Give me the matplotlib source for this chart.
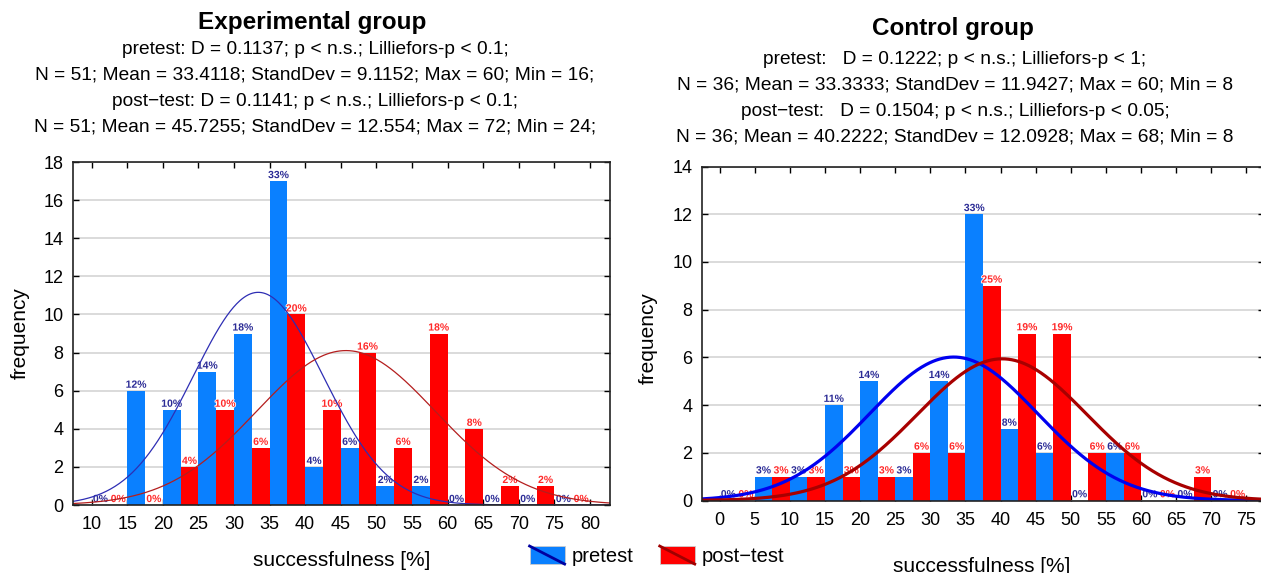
import numpy as np
import matplotlib
matplotlib.use("Agg")
import matplotlib.pyplot as plt
from matplotlib.patches import Rectangle
from matplotlib.lines import Line2D
from matplotlib.legend_handler import HandlerBase
import matplotlib.patheffects as pe

plt.rcParams['font.family'] = ['Liberation Sans', 'DejaVu Sans']

# ---------------- data ----------------
exp_bins = [10, 15, 20, 25, 30, 35, 40, 45, 50, 55, 60, 65, 70, 75]
exp_pre = [0, 6, 5, 7, 9, 17, 2, 3, 1, 1, 0, 0, 0, 0]
exp_post = [0, 0, 2, 5, 3, 10, 5, 8, 3, 9, 4, 1, 1, 0]
exp_xticks = [10, 15, 20, 25, 30, 35, 40, 45, 50, 55, 60, 65, 70, 75, 80]
exp_yticks = [0, 2, 4, 6, 8, 10, 12, 14, 16, 18]
exp_stats = {"pre": (51, 33.4118, 9.1152), "post": (51, 45.7255, 12.554)}

ctrl_bins = [0, 5, 10, 15, 20, 25, 30, 35, 40, 45, 50, 55, 60, 65, 70]
ctrl_pre = [0, 1, 1, 4, 5, 1, 5, 12, 3, 2, 0, 2, 0, 0, 0]
ctrl_post = [0, 1, 1, 1, 1, 2, 2, 9, 7, 7, 2, 2, 0, 1, 0]
ctrl_xticks = [0, 5, 10, 15, 20, 25, 30, 35, 40, 45, 50, 55, 60, 65, 70, 75]
ctrl_yticks = [0, 2, 4, 6, 8, 10, 12, 14]
ctrl_stats = {"pre": (36, 33.3333, 11.9427), "post": (36, 40.2222, 12.0928)}

bin_width = 5

exp_title = "Experimental group"
exp_sub = ["pretest: D = 0.1137; p < n.s.; Lilliefors-p < 0.1;",
           "N = 51; Mean = 33.4118; StandDev = 9.1152; Max = 60; Min = 16;",
           "post\u2212test: D = 0.1141; p < n.s.; Lilliefors-p < 0.1;",
           "N = 51; Mean = 45.7255; StandDev = 12.554; Max = 72; Min = 24;"]
ctrl_title = "Control group"
ctrl_sub = ["pretest:   D = 0.1222; p < n.s.; Lilliefors-p < 1;",
            "N = 36; Mean = 33.3333; StandDev = 11.9427; Max = 60; Min = 8",
            "post\u2212test:   D = 0.1504; p < n.s.; Lilliefors-p < 0.05;",
            "N = 36; Mean = 40.2222; StandDev = 12.0928; Max = 68; Min = 8"]

BLUE = '#0a80ff'
RED = '#ff0000'
BLUE_LBL = '#2c2c96'
RED_LBL = '#ff2a2a'

W, H = 1261, 573
fig = plt.figure(figsize=(W / 100, H / 100), dpi=100)


def fx(p):
    return p / W


def fy(p):
    return 1 - p / H


def draw(ax, bins, pre, post, stats, xlim, ylim, xticks, yticks, lw, cpre, cpost):
    bins = np.asarray(bins, float)
    half = bin_width / 2
    npre = sum(pre)
    npost = sum(post)
    stroke = [pe.withStroke(linewidth=1.2, foreground='white')]
    ax.bar(bins, pre, width=half, align='edge', color=BLUE, zorder=2, linewidth=0)
    for b, c in zip(bins, pre):
        ax.text(b + half / 2, c + 0.05, f"{round(100 * c / npre)}%", ha='center', va='bottom',
                fontsize=7.5, fontweight='bold', color=BLUE_LBL, zorder=2.5,
                path_effects=stroke)
    ax.bar(bins + half, post, width=half, align='edge', color=RED, zorder=3, linewidth=0)
    for b, c in zip(bins, post):
        ax.text(b + 1.5 * half, c + 0.05, f"{round(100 * c / npost)}%", ha='center', va='bottom',
                fontsize=7.5, fontweight='bold', color=RED_LBL, zorder=3.5,
                path_effects=stroke)
    xs = np.linspace(xlim[0], xlim[1], 500)
    for key, col in (("pre", cpre), ("post", cpost)):
        n, m, s = stats[key]
        ys = n * bin_width * np.exp(-0.5 * ((xs - m) / s) ** 2) / (s * np.sqrt(2 * np.pi))
        ax.plot(xs, ys, color=col, lw=lw, zorder=4)
    ax.set_xlim(*xlim)
    ax.set_ylim(*ylim)
    ax.set_xticks(xticks)
    ax.set_yticks(yticks)
    ax.yaxis.grid(True, color='#d4d4d4', lw=1.2, zorder=0)
    ax.set_axisbelow(True)
    ax.tick_params(direction='in', top=True, right=True, length=4, width=1,
                   labelsize=13, colors='black')
    ax.tick_params(axis='x', pad=8)
    ax.tick_params(axis='y', pad=7)
    for sp in ax.spines.values():
        sp.set_linewidth(1.2)
        sp.set_color('#222222')
        sp.set_zorder(5)


ax1 = fig.add_axes([fx(73), fy(505), fx(610 - 73), (505 - 162) / H])
draw(ax1, exp_bins, exp_pre, exp_post, exp_stats, (7.4, 82.8), (0, 18),
     exp_xticks, exp_yticks, 0.9, '#2e2eb4', '#b41e1e')

ax2 = fig.add_axes([fx(702), fy(500.5), fx(1264 - 702), (500.5 - 166.5) / H])
draw(ax2, ctrl_bins, ctrl_pre, ctrl_post, ctrl_stats, (-2.5, 77.5), (0, 14),
     ctrl_xticks, ctrl_yticks, 2.3, '#0000f0', '#a80000')

# titles
fig.text(fx(312), fy(23), exp_title, ha='center', va='center', fontsize=17.5, fontweight='bold')
for yy, s in zip([50, 75, 101, 127], exp_sub):
    fig.text(fx(315), fy(yy), s, ha='center', va='center', fontsize=13.8)
fig.text(fx(953), fy(29), ctrl_title, ha='center', va='center', fontsize=17.5, fontweight='bold')
for yy, s in zip([59, 85, 111, 137], ctrl_sub):
    fig.text(fx(955), fy(yy), s, ha='center', va='center', fontsize=13.8)

# axis labels
fig.text(fx(342), fy(560), "successfulness [%]", ha='center', va='center', fontsize=15)
fig.text(fx(982), fy(566), "successfulness [%]", ha='center', va='center', fontsize=15)
fig.text(fx(20), fy(333), "frequency", ha='center', va='center', rotation=90, fontsize=15)
fig.text(fx(648), fy(338), "frequency", ha='center', va='center', rotation=90, fontsize=15)


# legend
class Key:
    def __init__(self, fc, lc):
        self.fc = fc
        self.lc = lc


class KeyHandler(HandlerBase):
    def create_artists(self, legend, orig, xd, yd, width, height, fontsize, trans):
        r = Rectangle((-xd, -yd), width, height, facecolor=orig.fc,
                      edgecolor='#cccccc', lw=0.6, transform=trans)
        l = Line2D([-xd, -xd + width], [-yd + height, -yd], color=orig.lc,
                   lw=2, transform=trans)
        return [r, l]


fig.legend(handles=[Key(BLUE, '#0000a0'), Key(RED, '#a00000')],
           labels=["pretest", "post\u2212test"],
           handler_map={Key: KeyHandler()}, loc='center', ncol=2,
           bbox_to_anchor=(fx(657), fy(556)), frameon=False, fontsize=14.5,
           handlelength=1.74, handleheight=1.0, handletextpad=0.35,
           columnspacing=1.3, borderpad=0, borderaxespad=0)

fig.savefig("out.png", dpi=100)
